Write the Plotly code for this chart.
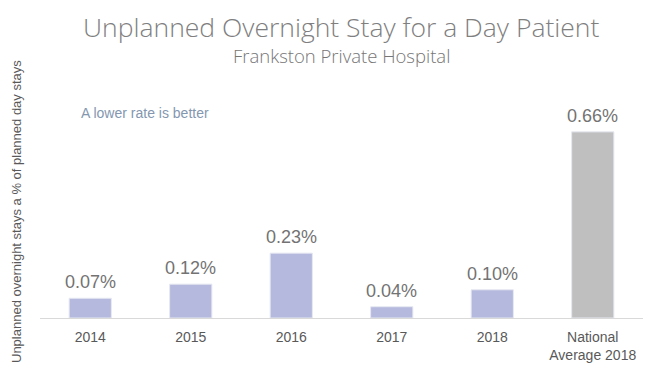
import plotly.graph_objects as go

categories = ["2014", "2015", "2016", "2017", "2018", "National<br>Average 2018"]
values = [0.07, 0.12, 0.23, 0.04, 0.10, 0.66]
labels = ["0.07%", "0.12%", "0.23%", "0.04%", "0.10%", "0.66%"]
colors = ["#B4B9DD"] * 5 + ["#BFBFBF"]

# page is rendered with an 8px body margin; work in page pixels and convert
OFF = 8
W, H = 656 - OFF, 376 - OFF
l, r, t, b = 40 - OFF, 13, 120 - OFF, 58
pw, ph = W - l - r, H - t - b


def px_to_paper(x, y):
    return (x - OFF - l) / pw, (H - b - (y - OFF)) / ph


fig = go.Figure(go.Bar(
    x=categories, y=values,
    marker=dict(color=colors, line=dict(color="#E6E8F2", width=1)),
    hoverinfo="x+y",
))

annotations = []
# category-axis annotations are placed by category index
for i, (v, s) in enumerate(zip(values, labels)):
    annotations.append(dict(x=i, y=v, xref="x", yref="y", text=s, showarrow=False,
                            yanchor="bottom", yshift=4,
                            font=dict(family="Liberation Sans, Arial", size=18, color="#737373")))

def add_text(text, x, y, size, color, family, weight=None, anchor="center", angle=0):
    fx, fy = px_to_paper(x, y)
    f = dict(family=family, size=size, color=color)
    if weight:
        f["weight"] = weight
    annotations.append(dict(text=text, x=fx, y=fy, xref="paper", yref="paper", showarrow=False,
                            xanchor=anchor, yanchor="middle", textangle=angle, font=f))

add_text("Unplanned Overnight Stay for a Day Patient", 341.5, 27, 26.5, "#7F7F7F", "Open Sans", 300)
add_text("Frankston Private Hospital", 341.5, 55, 18.5, "#767676", "Open Sans", 300)
add_text("A lower rate is better", 79, 113, 14, "#8497B0", "Liberation Sans, Arial", anchor="left")
add_text("Unplanned overnight stays a % of planned day stays", 16, 212, 13, "#595959",
         "Liberation Sans, Arial", angle=-90)

fig.update_layout(
    width=W, height=H,
    margin=dict(l=l, r=r, t=t, b=b),
    paper_bgcolor="white", plot_bgcolor="white",
    bargap=0.58,
    showlegend=False,
    xaxis=dict(type="category", range=[-0.5, 5.5], showline=True, linecolor="#D9D9D9", linewidth=1,
               ticks="", ticklabelstandoff=6,
               tickfont=dict(family="Liberation Sans, Arial", size=14, color="#595959")),
    yaxis=dict(range=[0, 0.702], visible=False, showgrid=False),
    annotations=annotations,
)

fig.write_html("out.html")
